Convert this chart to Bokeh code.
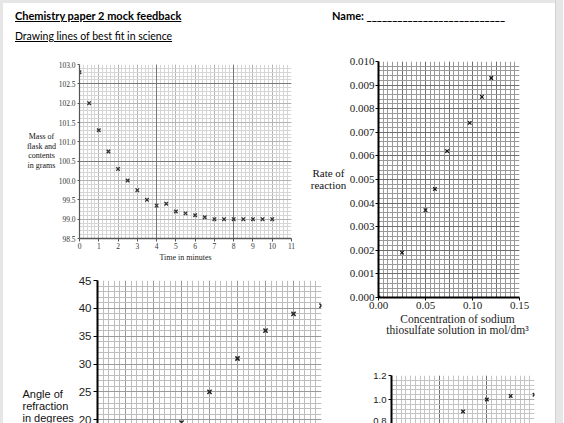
from bokeh.plotting import figure
from bokeh.layouts import row, column
from bokeh.models import (Div, Grid, SingleIntervalTicker, FixedTicker, Label,
                          PrintfTickFormatter, Range1d)
from bokeh.embed import file_html
from bokeh.resources import INLINE

# ---- Mass of flask and contents against time -------------------------------
time_min = [0, 0.5, 1, 1.5, 2, 2.5, 3, 3.5, 4, 4.5, 5, 5.5, 6, 6.5, 7, 7.5,
            8, 8.5, 9, 9.5, 10]
mass_g = [102.8, 102.0, 101.3, 100.75, 100.3, 100.0, 99.75, 99.5, 99.35, 99.4,
          99.2, 99.15, 99.1, 99.05, 99.0, 99.0, 99.0, 99.0, 99.0, 99.0, 99.0]
time_ticks = [0, 1, 2, 3, 4, 5, 6, 7, 8, 9, 10, 11]
mass_ticks = [98.5, 99.0, 99.5, 100.0, 100.5, 101.0, 101.5, 102.0, 102.5, 103.0]

# ---- Rate of reaction against concentration --------------------------------
conc = [0.0, 0.025, 0.05, 0.06, 0.073, 0.097, 0.11, 0.12]
rate = [0.0, 0.0019, 0.0037, 0.0046, 0.0062, 0.0074, 0.0085, 0.0093]
conc_ticks = [0.0, 0.05, 0.10, 0.15]
rate_ticks = [0.000, 0.001, 0.002, 0.003, 0.004, 0.005, 0.006, 0.007, 0.008,
              0.009, 0.010]

# ---- Angle of refraction against angle of incidence ------------------------
incidence = [30, 40, 50, 60, 70, 80]
refraction = [19.5, 25, 31, 36, 39, 40.5]
refraction_ticks = [20, 25, 30, 35, 40, 45]

# ---- Fourth graph (only its top strip is on the page) -----------------------
fourth_x = [7.5, 10, 12.5, 15]
fourth_y = [0.90, 1.00, 1.03, 1.04]
fourth_ticks = [0.8, 1.0, 1.2]

SERIF = "Liberation Serif"
SANS = "Liberation Sans"
PAGE_GRAY = "#e6e6e6"


def base_figure(w, h, xr, yr, left, right, top, bottom, x_axis=True):
    p = figure(width=w, height=h, x_range=Range1d(*xr), y_range=Range1d(*yr),
               min_border_left=left, min_border_right=right,
               min_border_top=top, min_border_bottom=bottom,
               x_axis_location="below" if x_axis else None,
               toolbar_location=None, output_backend="svg")
    p.background_fill_color = "white"
    p.border_fill_color = "white"
    p.outline_line_color = None
    return p


def graph_paper(p, x_step, x_sub, y_step, y_sub, minor, x_mid, y_mid,
                x_bold=None, y_bold=None, bold="#777777"):
    """Square-ruled background: fine lines, every n-th line a little darker."""
    p.xgrid.ticker = SingleIntervalTicker(interval=x_step, num_minor_ticks=x_sub)
    p.ygrid.ticker = SingleIntervalTicker(interval=y_step, num_minor_ticks=y_sub)
    for g, mid in ((p.xgrid, x_mid), (p.ygrid, y_mid)):
        g.grid_line_color = mid
        g.grid_line_width = 1
        g.minor_grid_line_color = minor
        g.minor_grid_line_width = 1
    if x_bold:
        p.add_layout(Grid(dimension=0, ticker=FixedTicker(ticks=x_bold),
                          grid_line_color=bold, grid_line_width=1))
    if y_bold:
        p.add_layout(Grid(dimension=1, ticker=FixedTicker(ticks=y_bold),
                          grid_line_color=bold, grid_line_width=1))


def style_axis(ax, ticks, fmt, font, size, color, line_color, line_width,
               tick_out=3, standoff=2):
    ax.ticker = FixedTicker(ticks=ticks, minor_ticks=[])
    if fmt:
        ax.formatter = PrintfTickFormatter(format=fmt)
    ax.major_label_text_font = font
    ax.major_label_text_font_size = size
    ax.major_label_text_color = color
    ax.axis_line_color = line_color
    ax.axis_line_width = line_width
    ax.major_tick_line_color = line_color
    ax.major_tick_out = tick_out
    ax.major_tick_in = 0
    ax.minor_tick_out = 0
    ax.minor_tick_in = 0
    ax.major_label_standoff = standoff


def side_label(p, place, x, y, text, dx, dy, font, size, align="center",
               line_height=1.1, color="#111111"):
    """Multi-line axis title drawn in one of the plot's border panels."""
    lbl = Label(x=x, y=y, x_offset=dx, y_offset=dy, text=text,
                text_font=font, text_font_size=size, text_color=color,
                text_align=align, text_baseline="middle",
                text_line_height=line_height)
    p.add_layout(lbl, place)


def axis_title(ax, text, font, size, standoff, line_height=1.0):
    ax.axis_label = text
    ax.axis_label_text_font = font
    ax.axis_label_text_font_size = size
    ax.axis_label_text_font_style = "normal"
    ax.axis_label_text_color = "#222222"
    ax.axis_label_standoff = standoff
    ax.axis_label_text_line_height = line_height


# ---- graph 1 ---------------------------------------------------------------
p1 = base_figure(343, 212, (0, 11), (98.5, 103.0), 76, 55, 11, 27)
graph_paper(p1, 1, 5, 0.5, 5, "#d6d6d6", "#b4b4b4", "#b4b4b4",
            x_bold=[4, 8], y_bold=[100.5, 102.5])
style_axis(p1.xaxis[0], time_ticks, None, SERIF, "7.5px", "#333333",
           "#555555", 1.5, tick_out=3, standoff=1)
style_axis(p1.yaxis[0], mass_ticks, "%.1f", SERIF, "7.5px", "#333333",
           "#555555", 1.2, tick_out=2, standoff=2)
axis_title(p1.xaxis[0], "Time in minutes", SERIF, "8px", 1)
p1.scatter(time_min, mass_g, marker="x", size=5, line_width=1.3,
           line_color="#333333")
side_label(p1, "left", 0, 103.0, "Mass of\nflask and\ncontents\nin grams",
           -38, -86.5, SERIF, "8px")
# y-axis title of the rate graph sits in this strip of the page
side_label(p1, "right", 11, 103.0, "Rate of\nreaction", 37, -114.5, SERIF,
           "11px", line_height=1.0)

# ---- graph 2 ---------------------------------------------------------------
p2 = base_figure(209, 292, (0, 0.15), (0, 0.010), 32, 36, 8, 48)
graph_paper(p2, 0.025, 5, 0.001, 5, "#9a9a9a", "#6e6e6e", "#6e6e6e")
style_axis(p2.xaxis[0], conc_ticks, "%.2f", SERIF, "11px", "#222222",
           "#000000", 2, tick_out=3, standoff=1)
style_axis(p2.yaxis[0], rate_ticks, "%.3f", SERIF, "11px", "#222222",
           "#000000", 2, tick_out=3, standoff=1)
side_label(p2, "below", 0.075, 0.0,
           "Concentration of sodium\nthiosulfate solution in mol/dm\u00b3",
           8.5, -27, SERIF, "11.5px", line_height=0.9, color="#222222")
p2.scatter(conc, rate, marker="x", size=5, line_width=1.2, line_color="#111111")

# ---- graph 3 ---------------------------------------------------------------
p3 = base_figure(343, 158, (0, 80), (19.33, 45), 94, 25, 15, 0, x_axis=False)
graph_paper(p3, 10, 5, 5, 5, "#bdbdbd", "#9a9a9a", "#9a9a9a")
style_axis(p3.yaxis[0], refraction_ticks, None, SANS, "11.5px", "#222222",
           "#000000", 2, tick_out=4, standoff=2)
p3.scatter(incidence, refraction, marker="x", size=6, line_width=1.5,
           line_color="#222222")
side_label(p3, "left", 0, 45, "Angle of\nrefraction\nin degrees", -75, -125,
           SANS, "11px", align="left", line_height=1.0)

# ---- graph 4 ---------------------------------------------------------------
p4 = base_figure(209, 78, (0, 15), (0.8, 1.2), 45, 21, 30, 0, x_axis=False)
graph_paper(p4, 5, 10, 0.2, 5, "#c4c4c4", "#6e6e6e", "#b0b0b0")
style_axis(p4.yaxis[0], fourth_ticks, "%.1f", SANS, "9.5px", "#222222",
           "#000000", 2, tick_out=3, standoff=2)
p4.scatter(fourth_x, fourth_y, marker="x", size=5, line_width=1.3,
           line_color="#222222")

# ---- page heading and margins ------------------------------------------------
heading = Div(width=552, height=53, margin=0, text=(
    '<div style="position:relative;width:552px;height:53px;background:#ffffff;'
    'font-family:Lato;color:#000;line-height:1;">'
    f'<div style="position:absolute;left:0;top:0;width:552px;height:3px;background:{PAGE_GRAY};"></div>'
    '<div style="position:absolute;left:12px;top:10px;font-weight:bold;font-size:11px;'
    'text-decoration:underline;white-space:nowrap;">Chemistry paper 2 mock feedback</div>'
    '<div style="position:absolute;left:329px;top:10px;font-weight:bold;font-size:11px;'
    'white-space:nowrap;">Name: ___________________________</div>'
    '<div style="position:absolute;left:12px;top:31px;font-size:10.5px;'
    'text-decoration:underline;white-space:nowrap;">Drawing lines of best fit in science</div>'
    '</div>'))
left_margin = Div(width=3, height=423, margin=0, text=(
    f'<div style="width:3px;height:423px;background:{PAGE_GRAY};"></div>'))
right_margin = Div(width=9, height=423, margin=0, text=(
    f'<div style="width:8px;height:423px;background:{PAGE_GRAY};'
    'border-left:1px solid #d2d2d2;"></div>'))

# each graph sits in its own box so the graphs keep their own border widths
left_col = column(row(p1), row(p3))
right_col = column(row(p2), row(p4))
page = column(heading, row(left_col, right_col))
layout = row(left_margin, page, right_margin)

with open("out.html", "w") as f:
    f.write(file_html(layout, INLINE))
